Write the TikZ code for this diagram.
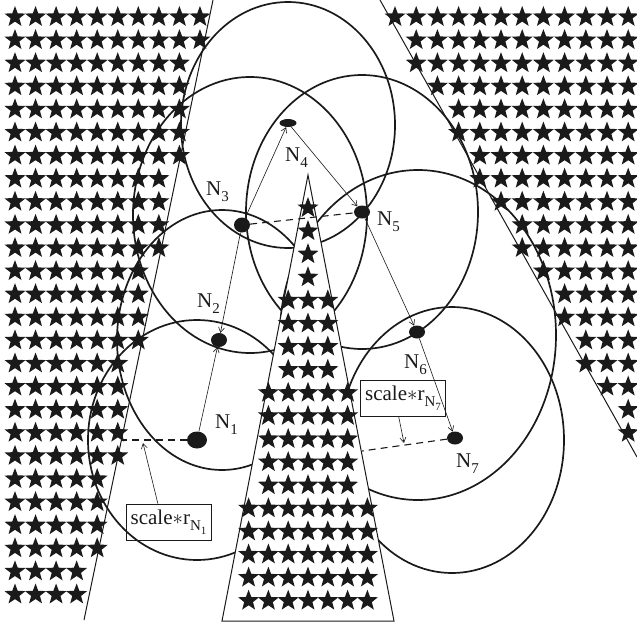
\documentclass[tikz,border=0pt]{standalone}
\usepackage{fontspec}
\setmainfont{Liberation Serif}
\usetikzlibrary{shapes.geometric,arrows.meta}

\definecolor{ink}{HTML}{1A1A1A}
\newcommand\lsub[1]{\raisebox{-6pt}{\fontsize{15}{15}\selectfont #1}}
\newcommand\llsub[1]{\raisebox{-4pt}{\fontsize{11}{11}\selectfont #1}}

\begin{document}
\begin{tikzpicture}[x=1pt,y=-1pt,
  reachline/.style={draw=ink,line width=1.7pt},
  wallline/.style={draw=ink,line width=1pt},
  sensornode/.style={ellipse,fill=ink,inner sep=0pt},
  hopline/.style={draw=ink,line width=0.6pt,-{Straight Barb[length=5pt,width=6pt]}},
  gapline/.style={draw=ink,line width=1.1pt,dash pattern=on 7pt off 5pt},
  nlabel/.style={font=\fontsize{21}{24}\selectfont,inner sep=0pt,text=ink,anchor=base west},
  radtag/.style={draw=ink,line width=0.8pt,inner sep=2pt,minimum width=85pt,minimum height=36pt,
              font=\fontsize{21}{24}\selectfont,text=ink},
  pics/bstar/.style={code={\fill[ink] (-90:11)--(-54:4.6)--(-18:11)--(18:4.6)--(54:11)--(90:4.6)
      --(126:11)--(162:4.6)--(198:11)--(234:4.6)--cycle;}}
]
\useasboundingbox (0,0) rectangle (637,627);

% star-filled obstacle on the left
\foreach \k in {0,...,25}{
  \foreach \j in {0,...,9}{
    \pgfmathsetmacro\sx{15+20.55*\j}
    \pgfmathsetmacro\sy{17+23.1*\k}
    \pgfmathtruncatemacro\ok{(\sx < 213-0.208*\sy) ? 1 : 0}
    \ifnum\ok=1 \pic at (\sx,\sy) {bstar}; \fi
  }
}
% star-filled obstacle on the right
\foreach \k in {0,...,18}{
  \foreach \j in {0,...,11}{
    \pgfmathsetmacro\sx{395+21.2*\j}
    \pgfmathsetmacro\sy{17+23.1*\k}
    \pgfmathtruncatemacro\ok{(\sx > 378+0.5624*\sy) ? 1 : 0}
    \ifnum\ok=1 \pic at (\sx,\sy) {bstar}; \fi
  }
}
% star-filled obstacle in the middle (tapering upward)
\foreach \k/\m in {0/0,1/0,2/0,3/0,4/1,5/1,6/1,7/1,8/2,9/2,10/2,11/2,12/2,13/3,14/3,15/3,16/3,17/3}{
  \foreach \j in {-3,...,3}{
    \pgfmathtruncatemacro\ok{abs(\j) <= \m ? 1 : 0}
    \ifnum\ok=1 \pic at (308+19.8*\j,208+23.1*\k) {bstar}; \fi
  }
}

% obstacle borders
\draw[wallline] (213,0) -- (84,620);
\draw[wallline] (380,0) -- (637,457);
\draw[wallline] (308,175) -- (222,621) -- (394,621) -- cycle;

% sensing ranges, hidden behind the middle obstacle
\begin{scope}
  \clip (0,0) -- (637,0) -- (637,627) -- (0,627) -- cycle
        (308,175) -- (222,621) -- (394,621) -- cycle;
  \draw[reachline] (197,440) ellipse [x radius=109, y radius=120];
  \draw[reachline] (222,340) ellipse [x radius=105, y radius=130];
  \draw[reachline] (250,215) ellipse [x radius=117, y radius=138];
  \draw[reachline] (288,125) ellipse [x radius=107, y radius=123];
  \draw[reachline] (362,212) ellipse [x radius=116, y radius=137];
  \draw[reachline] (418,335) ellipse [x radius=138, y radius=165];
  \draw[reachline] (452,440) ellipse [x radius=112, y radius=133];
\end{scope}

% sensor nodes
\node[sensornode,minimum width=20pt,minimum height=17pt] (n1) at (197,440) {};
\node[sensornode,minimum width=16pt,minimum height=14pt] (n2) at (219,340) {};
\node[sensornode,minimum width=16pt,minimum height=15pt] (n3) at (242,225) {};
\node[sensornode,minimum width=17pt,minimum height=8pt]  (n4) at (288,123) {};
\node[sensornode,minimum width=16pt,minimum height=13pt] (n5) at (362,212) {};
\node[sensornode,minimum width=16pt,minimum height=13pt] (n6) at (417,332) {};
\node[sensornode,minimum width=16pt,minimum height=13pt] (n7) at (455,438) {};

% labels
\node[nlabel] (l1) at (215,428) {N\lsub{1}};
\node[nlabel] (l2) at (197,307) {N\lsub{2}};
\node[nlabel] (l3) at (206,195) {N\lsub{3}};
\node[nlabel] (l4) at (285,161) {N\lsub{4}};
\node[nlabel] (l5) at (377,225) {N\lsub{5}};
\node[nlabel] (l6) at (404,368) {N\lsub{6}};
\node[nlabel] (l7) at (456,467) {N\lsub{7}};

% forwarding path
\draw[hopline] (n1) -- (n2);
\draw[hopline] (n3) -- (n2);
\draw[hopline] (n3) -- (n4);
\draw[hopline] (n4) -- (n5);
\draw[hopline] (n5) -- (n6);
\draw[hopline] (n6) -- (n7);

% distances to the obstacles
\coordinate (w1) at (121.5,440);
\coordinate (w7) at (362,451);
\draw[gapline] (n3) -- (n5);
\draw[gapline] (n1) -- (w1);
\draw[gapline] (n7) -- (w7);

% scaled radius tags
\node[radtag] (t1) at (168.5,522) {scale$\ast$r\lsub{N\llsub{1}}};
\node[radtag] (t7) at (403,398.5) {scale$\ast$r\lsub{N\llsub{7}}};
\coordinate (r1) at (143,443);
\coordinate (r7) at (404,443);
\draw[hopline] (t1.120) -- (r1);
\draw[hopline] (t7.-103) -- (r7);
\end{tikzpicture}
\end{document}
